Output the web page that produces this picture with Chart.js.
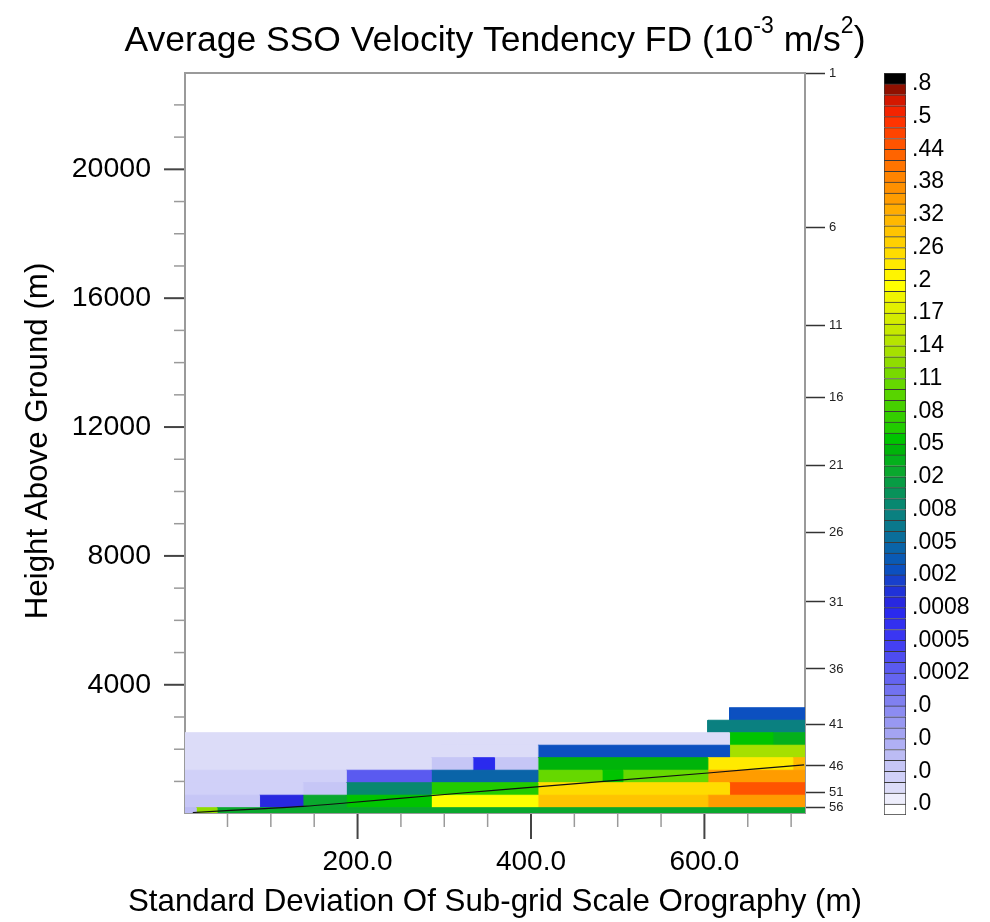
<!DOCTYPE html>
<html><head><meta charset="utf-8">
<script src="https://cdn.jsdelivr.net/npm/chart.js@4.4.1/dist/chart.umd.min.js"></script>
<style>
html,body{margin:0;padding:0;background:#fff;}
#wrap{position:relative;width:990px;height:922px;overflow:hidden;}
#main{position:absolute;left:0;top:0;}
#bar{position:absolute;left:868px;top:0;}
</style></head><body>
<div id="wrap"><canvas id="main" width="990" height="922"></canvas><canvas id="bar" width="122" height="922"></canvas></div>
<script>
// ---------------- data ----------------
// column edges: standard deviation of sub-grid orography (m)
const sigmaEdges = [1, 14, 38, 87, 137, 187, 285, 333, 358, 408, 482, 506, 604, 629, 679, 702, 716];
// row edges: height above ground (m)
const heightEdges = [20, 183, 571, 959, 1347, 1735, 2123, 2511, 2899, 3287];
// tendency (10^-3 m/s^2), rows bottom -> top, columns left -> right (null = no data)
const tendency = [
  [0.000055, 0.125, 0.025, 0.025, 0.025, 0.025, 0.025, 0.025, 0.025, 0.025, 0.025, 0.025, 0.025, 0.025, 0.025, 0.025],
  [0.000045, 0.000045, 0.000045, 0.0009, 0.025, 0.055, 0.195, 0.195, 0.195, 0.29, 0.29, 0.29, 0.35, 0.35, 0.35, 0.35],
  [0.000035, 0.000035, 0.000035, 0.000035, 0.000045, 0.009, 0.065, 0.065, 0.065, 0.25, 0.25, 0.25, 0.25, 0.45, 0.45, 0.45],
  [0.000035, 0.000035, 0.000035, 0.000035, 0.000035, 0.00025, 0.0045, 0.0045, 0.0045, 0.105, 0.055, 0.105, 0.35, 0.35, 0.35, 0.35],
  [0.000025, 0.000025, 0.000025, 0.000025, 0.000025, 0.000025, 0.000045, 0.00075, 0.000045, 0.045, 0.045, 0.045, 0.23, 0.23, 0.23, 0.31],
  [0.000025, 0.000025, 0.000025, 0.000025, 0.000025, 0.000025, 0.000025, 0.000025, 0.000025, 0.0025, 0.0025, 0.0025, 0.0025, 0.135, 0.135, 0.135],
  [0.000025, 0.000025, 0.000025, 0.000025, 0.000025, 0.000025, 0.000025, 0.000025, 0.000025, 0.000025, 0.000025, 0.000025, 0.000025, 0.055, 0.035, 0.035],
  [null, null, null, null, null, null, null, null, null, null, null, null, 0.0075, 0.0075, 0.0075, 0.0075],
  [null, null, null, null, null, null, null, null, null, null, null, null, null, 0.0025, 0.0025, 0.0025]
];
// overlaid black line (sigma, height)
const lineSigma = [10, 87, 137, 186, 284, 364, 604, 715];
const lineHeight = [35, 150, 225, 330, 555, 740, 1262, 1515];

// contour levels (ascending) and colours (68 boxes, bottom -> top)
const levels = [0.00001,0.00002,0.00003,0.00004,0.00005,0.00006,0.00007,0.00008,0.00009,0.0001,
  0.00013,0.00016,0.0002,0.0003,0.0004,0.0005,0.0006,0.0007,0.0008,0.001,
  0.0015,0.002,0.003,0.004,0.005,0.006,0.007,0.008,0.01,0.015,
  0.02,0.03,0.04,0.05,0.06,0.07,0.08,0.09,0.1,0.11,
  0.12,0.13,0.14,0.15,0.16,0.17,0.18,0.19,0.2,0.22,
  0.24,0.26,0.28,0.3,0.32,0.34,0.36,0.38,0.4,0.42,
  0.44,0.46,0.48,0.5,0.6,0.7,0.8];
const boxColors = ['#ffffff','#eeeefc','#dcdcf8','#d0d0f8','#c6c6f6','#bcbcf4','#b0b0f4','#a4a4f2','#9898f2','#8c8cf2',
  '#8080f0','#7272f0','#6464f0','#5a5af0','#4e4cf0','#4440f2','#3a36f2','#3230f0','#2a2aee','#2828e0',
  '#2032d8','#1840cc','#0c50c0','#0a5ab4','#0a64a8','#0a6e9a','#0a788c','#0a8080','#088870','#08925a',
  '#089c44','#0aa82e','#04b01c','#00b40a','#00c400','#22cc00','#34ce00','#46d000','#58d400','#66d800',
  '#78da00','#90dc00','#a6e000','#b6e400','#c6e800','#d4ec00','#e2f000','#f0f400','#ffff00','#fff400',
  '#ffea00','#ffdc00','#ffd000','#ffc400','#ffb800','#ffac00','#ff9c00','#ff9000','#ff8400','#ff7400',
  '#ff6400','#ff5400','#ff4400','#ff3400','#f42400','#d41800','#901000','#000000'];
const cbLabelPos = [1,4,7,10,13,16,19,22,25,28,31,34,37,40,43,46,49,52,55,58,61,64,67];
const cbLabels = ['.0','.0','.0','.0','.0002','.0005','.0008','.002','.005','.008','.02','.05','.08','.11','.14','.17','.2','.26','.32','.38','.44','.5','.8'];

// axis ticks
const xTicks = [50,100,150,200,250,300,350,400,450,500,550,600,650,700];
const xMajor = [200,400,600];
const yTicks = [1000,2000,3000,4000,5000,6000,7000,8000,9000,10000,11000,12000,13000,14000,15000,16000,17000,18000,19000,20000,21000,22000];
const yMajor = [4000,8000,12000,16000,20000];
const levelHeights = [22980, 18188, 15146, 12924, 10822, 8742, 6570, 4490, 2773, 1479, 650, 197];
const levelLabels = ['1','6','11','16','21','26','31','36','41','46','51','56'];

const titleParts = [['Average SSO Velocity Tendency FD (10',0],['-3',1],[' m/s',0],['2',1],[')',0]];
const xTitle = 'Standard Deviation Of Sub-grid Scale Orography (m)';
const yTitle = 'Height Above Ground (m)';

// ---------------- build ----------------
const FAM = "'Liberation Sans', Arial, Helvetica, sans-serif";
Chart.defaults.font.family = FAM;
function colorFor(v){ let b = 0; for (const L of levels) if (v >= L) b++; return boxColors[b]; }

const datasets = [];
tendency.forEach((row, r) => {
  let c = 0;
  while (c < row.length) {
    const v = row[c];
    if (v === null) { c++; continue; }
    let e = c;
    while (e + 1 < row.length && row[e + 1] === v) e++;
    const x0 = sigmaEdges[c], x1 = sigmaEdges[e + 1], y0 = heightEdges[r], y1 = heightEdges[r + 1];
    const col = colorFor(v);
    datasets.push({
      data: [{x:x0,y:y0},{x:x1,y:y0},{x:x1,y:y1},{x:x0,y:y1},{x:x0,y:y0}],
      fill: 'shape', backgroundColor: col, borderColor: col, borderWidth: 1,
      pointRadius: 0, tension: 0, order: 1
    });
    c = e + 1;
  }
});
datasets.push({
  data: lineSigma.map((x, i) => ({x, y: lineHeight[i]})),
  borderColor: '#111', borderWidth: 1.2, fill: false, pointRadius: 0, tension: 0.3, order: 0
});

const X0 = 1, X1 = 716, Y0 = 20, Y1 = 22990;

const tickPlugin = {
  id: 'ncTicks',
  afterDraw(chart) {
    const {ctx, scales: {x, y}, chartArea: a} = chart;
    ctx.save();
    yTicks.forEach(v => {
      const maj = yMajor.includes(v);
      const p = y.getPixelForValue(v);
      ctx.strokeStyle = maj ? '#444' : '#9a9a9a';
      ctx.lineWidth = maj ? 2 : 1.5;
      ctx.beginPath(); ctx.moveTo(a.left - 1, p); ctx.lineTo(a.left - (maj ? 21 : 11), p); ctx.stroke();
    });
    xTicks.forEach(v => {
      const maj = xMajor.includes(v);
      const p = x.getPixelForValue(v);
      ctx.strokeStyle = maj ? '#444' : '#9a9a9a';
      ctx.lineWidth = maj ? 2 : 1.5;
      ctx.beginPath(); ctx.moveTo(p, a.bottom + 1); ctx.lineTo(p, a.bottom + (maj ? 26 : 14)); ctx.stroke();
    });
    ctx.fillStyle = '#000';
    // axis titles
    ctx.font = `31.3px ${FAM}`;
    ctx.textAlign = 'center'; ctx.textBaseline = 'middle';
    ctx.fillText(xTitle, (a.left + a.right) / 2, 902);
    ctx.save();
    ctx.translate(38, (a.top + a.bottom) / 2 - 2);
    ctx.rotate(-Math.PI / 2);
    ctx.fillText(yTitle, 0, 0);
    ctx.restore();
    // main title with superscripts
    const size = 35.5, sup = 23;
    let total = 0;
    titleParts.forEach(([t, s]) => { ctx.font = `${s ? sup : size}px ${FAM}`; total += ctx.measureText(t).width; });
    let tx = (a.left + a.right) / 2 - total / 2;
    const base = 51;
    ctx.textBaseline = 'alphabetic'; ctx.textAlign = 'left';
    titleParts.forEach(([t, s]) => {
      ctx.font = `${s ? sup : size}px ${FAM}`;
      ctx.fillText(t, tx, s ? base - 18 : base);
      tx += ctx.measureText(t).width;
    });
    ctx.restore();
  }
};

new Chart(document.getElementById('main'), {
  type: 'line',
  data: { datasets },
  options: {
    responsive: false, animation: false, devicePixelRatio: 1,
    plugins: { legend: {display: false}, tooltip: {enabled: false}, title: {display: false} },
    layout: { padding: 0 },
    scales: {
      x: {
        type: 'linear', position: 'bottom', min: X0, max: X1,
        afterBuildTicks: s => { s.ticks = xTicks.map(v => ({value: v})); },
        afterFit: s => { s.height = 109; },
        ticks: { autoSkip: false, maxRotation: 0, color: '#000', font: {size: 28}, padding: 6,
          callback: v => xMajor.includes(v) ? v.toFixed(1) : '' },
        grid: { display: false, drawTicks: true, tickLength: 26, drawOnChartArea: false },
        border: { display: true, color: '#9a9a9a', width: 2 }
      },
      x2: {
        type: 'linear', position: 'top', min: X0, max: X1,
        afterFit: s => { s.height = 73; },
        ticks: { display: false }, grid: { display: false, drawTicks: false },
        border: { display: true, color: '#9a9a9a', width: 2 }
      },
      y: {
        type: 'linear', position: 'left', min: Y0, max: Y1,
        afterBuildTicks: s => { s.ticks = yTicks.map(v => ({value: v})); },
        afterFit: s => { s.width = 185; },
        ticks: { autoSkip: false, color: '#000', font: {size: 28.5}, padding: 13,
          callback: v => yMajor.includes(v) ? String(v) : '' },
        grid: { display: false, drawTicks: true, tickLength: 21, drawOnChartArea: false },
        border: { display: true, color: '#9a9a9a', width: 2 }
      },
      y2: {
        type: 'linear', position: 'right', min: Y0, max: Y1,
        afterBuildTicks: s => { s.ticks = levelHeights.map(v => ({value: v})); },
        afterFit: s => { s.width = 185; },
        ticks: { autoSkip: false, color: '#222', font: {size: 13}, padding: 4,
          callback: (v, i) => levelLabels[i] },
        grid: { display: true, drawOnChartArea: false, drawTicks: true, tickLength: 20, tickColor: '#333', tickWidth: 1.5 },
        border: { display: true, color: '#9a9a9a', width: 2 }
      }
    }
  },
  plugins: [tickPlugin]
});

// ---------------- colour bar ----------------
new Chart(document.getElementById('bar'), {
  type: 'bar',
  data: {
    labels: ['bar'],
    datasets: boxColors.map((c, i) => ({
      data: [1], backgroundColor: c, borderColor: '#3a3a3a',
      borderWidth: {top: 1, left: 1, right: 1, bottom: i === 0 ? 1 : 0}, borderSkipped: false,
      categoryPercentage: 1, barPercentage: 1
    }))
  },
  options: {
    responsive: false, animation: false, devicePixelRatio: 1,
    plugins: { legend: {display: false}, tooltip: {enabled: false} },
    layout: { padding: {left: 16, top: 73, bottom: 107, right: 0} },
    scales: {
      x: { stacked: true, display: false },
      y: {
        stacked: true, position: 'right', min: 0, max: boxColors.length,
        afterBuildTicks: s => { s.ticks = cbLabelPos.map(v => ({value: v})); },
        afterFit: s => { s.width = 84; },
        ticks: { autoSkip: false, color: '#000', font: {size: 23}, padding: 6,
          callback: (v, i) => cbLabels[i] },
        grid: { display: false, drawTicks: false },
        border: { display: false }
      }
    }
  }
});
</script>
</body></html>
